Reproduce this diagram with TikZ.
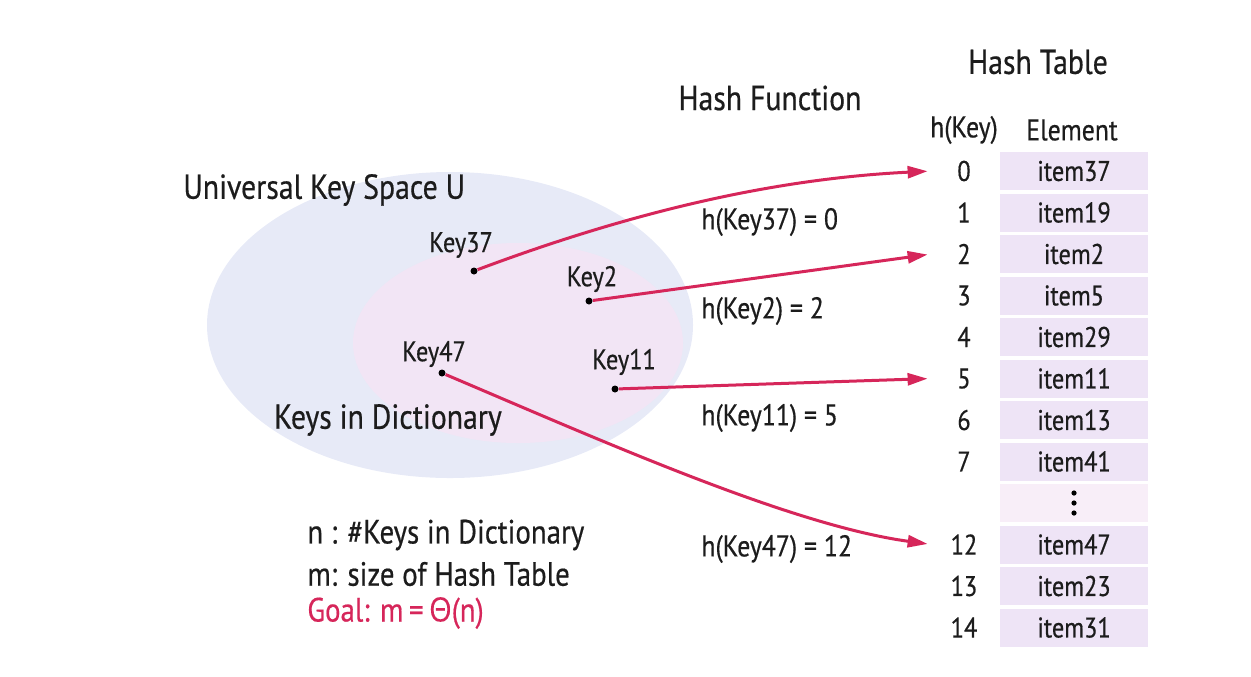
\documentclass[tikz,border=0pt]{standalone}
\usepackage{fontspec}
\setmainfont{PT Sans}[FakeStretch=0.86, FakeBold=0.5]
\newfontfamily\greekfont{Open Sans}[FakeStretch=0.86, FakeBold=0.3]
\usetikzlibrary{arrows.meta,positioning}

\definecolor{keyred}{RGB}{214,38,90}
\definecolor{inkblack}{RGB}{28,28,28}
\definecolor{universefill}{RGB}{231,234,247}
\definecolor{dictfill}{RGB}{242,229,245}
\definecolor{cellfill}{RGB}{238,228,246}
\definecolor{gapfill}{RGB}{248,238,248}

\begin{document}
\begin{tikzpicture}[x=0.5pt, y=-0.5pt, text=inkblack]
    \tikzstyle{title} = [font=\fontsize{17.3}{20}\selectfont, inner sep=0pt]
    \tikzstyle{keytext} = [font=\fontsize{14.2}{16}\selectfont, inner sep=0pt]
    \tikzstyle{hashtext} = [font=\fontsize{15}{17}\selectfont, inner sep=0pt, anchor=west]
    \tikzstyle{note} = [font=\fontsize{16.8}{19}\selectfont, inner sep=0pt, anchor=west]
    \tikzstyle{keydot} = [circle, fill=black, inner sep=0pt, minimum size=3.5pt]
    \tikzstyle{cell} = [rectangle, fill=cellfill, minimum width=74pt, minimum height=19pt, inner sep=0pt, font=\fontsize{14.2}{16}\selectfont]
    \tikzstyle{slot} = [minimum width=32pt, inner sep=0pt, font=\fontsize{14.2}{16}\selectfont]
    \tikzstyle{head} = [inner sep=0pt, font=\fontsize{15}{17}\selectfont]
    \tikzstyle{gapdot} = [circle, fill=black, inner sep=0pt, minimum size=2.6pt]
    \tikzstyle{line} = [draw=keyred, line width=1.5pt, -{Triangle[length=10pt,width=6pt]}, shorten >=2pt]

    \useasboundingbox (0,0) rectangle (1251,676);

    % key spaces
    \fill[universefill] (450,325) ellipse [x radius=243, y radius=153];
    \fill[dictfill] (518,343) ellipse [x radius=165, y radius=100];

    \node [title, anchor=west] (universe) at (183,190) {Universal Key Space U};
    \node [title] (dict) at (388,420) {Keys in Dictionary};

    \node [keydot] (k37) at (474,271) {};
    \node [keydot] (k2) at (589,301) {};
    \node [keydot] (k47) at (442,373) {};
    \node [keydot] (k11) at (615,389) {};
    \node [keytext] (l37) at (461,245) {Key37};
    \node [keytext] (l2) at (592,279) {Key2};
    \node [keytext] (l47) at (434,354) {Key47};
    \node [keytext] (l11) at (624,362) {Key11};

    % hash table
    \node [title] (htitle) at (1038,62) {Hash Table};
    \node [title] (ftitle) at (770,98) {Hash Function};
    \node [head] (hkey) at (964,130) {h(Key)};
    \node [head] (helem) at (1072,130) {Element};
    \foreach \k/\idx/\item in {0/0/item37, 1/1/item19, 2/2/item2, 3/3/item5, 4/4/item29, 5/5/item11, 6/6/item13, 7/7/item41, 9/12/item47, 10/13/item23, 11/14/item31} {
        \node [slot] (h\idx) at (964,{171+41.5*\k}) {\idx};
        \node [cell] (e\idx) at (1074,{171+41.5*\k}) {\item};
    }
    \node [cell, fill=gapfill] (egap) at (1074,503) {};
    \foreach \d in {-10,0,10}
        \node [gapdot] at ([yshift=\d*0.5pt]egap.center) {};

    % hash function arrows
    \path [line] (k37) .. controls (650,205) and (790,178) .. (h0.west);
    \path [line] (k2) -- (h2.west);
    \path [line] (k11) -- (h5.west);
    \path [line] (k47) .. controls (600,440) and (790,525) .. (h12.west);

    \node [hashtext] (f37) at (701,222) {h(Key37) = 0};
    \node [hashtext] (f2) at (701,311) {h(Key2) = 2};
    \node [hashtext] (f11) at (701,418) {h(Key11) = 5};
    \node [hashtext] (f47) at (701,549) {h(Key47) = 12};

    % notes
    \node [note] (nnote) at (307,535) {n : \#Keys in Dictionary};
    \node [note] (mnote) at (307,574) {m: size of Hash Table};
    \node [note, text=keyred] (goal) at (307,613) {Goal: m\,=\,{\greekfont Θ}(n)};
\end{tikzpicture}
\end{document}
